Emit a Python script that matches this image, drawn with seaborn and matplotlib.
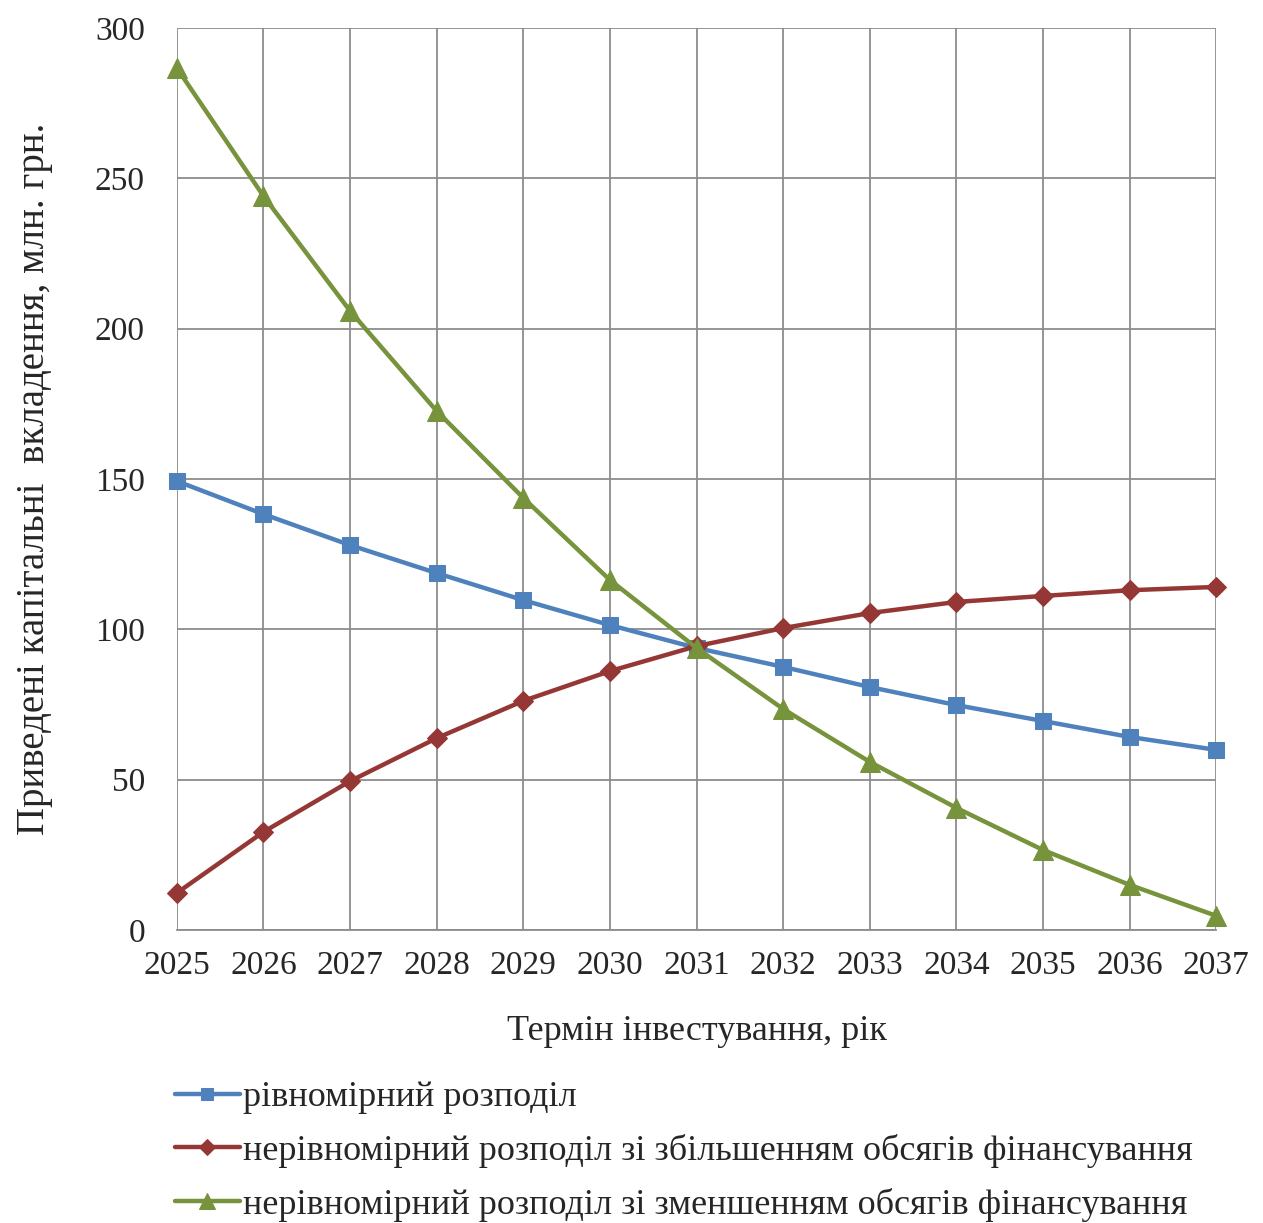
import pandas as pd
import matplotlib
matplotlib.use('Agg')
import matplotlib.pyplot as plt
import seaborn as sns

# Дані
years = [2025, 2026, 2027, 2028, 2029, 2030, 2031, 2032, 2033, 2034, 2035, 2036, 2037]
rivnomirnyi = [149.3, 138.3, 128.0, 118.7, 109.7, 101.4, 93.8, 87.5, 80.8, 74.8, 69.5, 64.2, 59.9]
zbilshennia = [12.3, 32.6, 49.5, 63.8, 76.2, 86.1, 94.4, 100.4, 105.4, 109.1, 111.1, 113.0, 114.1]
zmenshennia = [286.7, 244.1, 205.9, 172.6, 143.7, 116.4, 93.8, 73.5, 55.9, 40.6, 26.6, 15.0, 4.7]

series_names = ['рівномірний розподіл',
                'нерівномірний розподіл зі збільшенням обсягів фінансування',
                'нерівномірний розподіл зі зменшенням обсягів фінансування']
series_values = [rivnomirnyi, zbilshennia, zmenshennia]
colors = ['#4F81BD', '#953735', '#77933C']
markers = ['s', 'D', '^']
msizes = [11, 10, 14]

sns.set_style('white')
plt.rcParams['font.family'] = ['Liberation Serif', 'DejaVu Serif']

fig = plt.figure(figsize=(12.63, 12.23), dpi=100)
ax = fig.add_axes([0.140, 0.2396, 0.823, 0.7375])

for name, vals, c, m, ms in zip(series_names, series_values, colors, markers, msizes):
    d = pd.DataFrame({'year': years, 'value': vals})
    sns.lineplot(data=d, x='year', y='value', ax=ax, color=c, linewidth=3.2,
                 marker=m, markersize=ms, markeredgecolor=c, label=name,
                 zorder=3, clip_on=False)

ax.set_xlim(2025, 2037)
ax.set_ylim(0, 300)
ax.set_xticks(years)
ax.set_xticklabels([str(y) for y in years])
ax.set_yticks(range(0, 301, 50))
ax.grid(True, color='#8c8c8c', linewidth=1.3)
for s in ax.spines.values():
    s.set_visible(False)
ax.spines['bottom'].set_visible(True)
ax.spines['bottom'].set_color('#8c8c8c')
ax.spines['bottom'].set_linewidth(1.3)
ax.tick_params(axis='both', length=11, width=1.3, color='#8c8c8c',
               labelsize=24, pad=6)
ax.tick_params(axis='y', pad=12)
ax.tick_params(axis='x', pad=4)

ax.set_xlabel('Термін інвестування, рік', fontsize=26, labelpad=24)
ax.set_ylabel('Приведені капітальні  вкладення, млн. грн.', fontsize=28, labelpad=30)

leg = ax.legend(loc='upper left', bbox_to_anchor=(0.127, 0.128),
                bbox_transform=fig.transFigure, frameon=False, fontsize=26,
                handlelength=1.8, handletextpad=0.1, labelspacing=0.55,
                borderaxespad=0, markerscale=0.8)

fig.savefig('out.png', dpi=100)
